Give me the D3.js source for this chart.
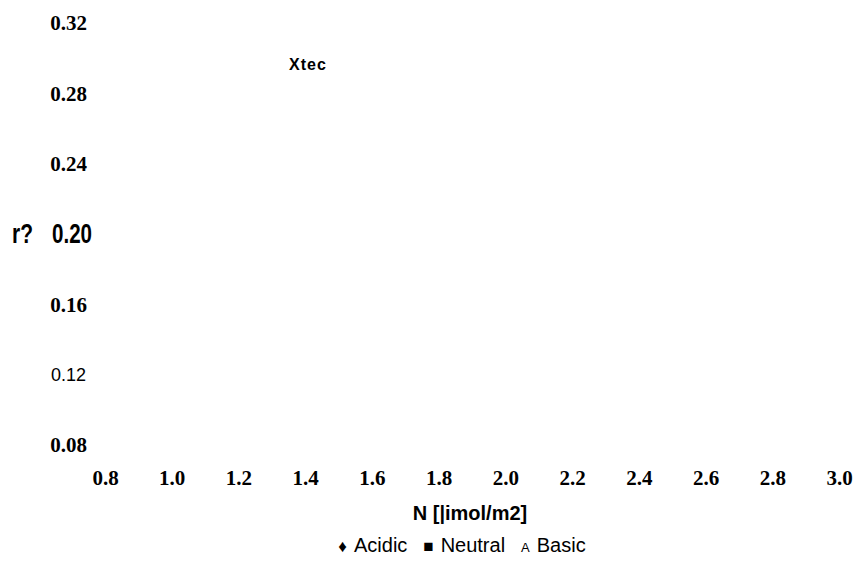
<!DOCTYPE html>
<html>
<head>
<meta charset="utf-8">
<script src="https://cdn.jsdelivr.net/npm/d3@7"></script>
<style>
  body { margin: 0; background: #fff; }
  svg { display: block; }
</style>
</head>
<body>
<div id="container"></div>
<script>
/* DATA */
const yTicks = [0.08, 0.12, 0.16, 0.20, 0.24, 0.28, 0.32];
const xTicks = [0.8, 1.0, 1.2, 1.4, 1.6, 1.8, 2.0, 2.2, 2.4, 2.6, 2.8, 3.0];
const seriesNames = ["Acidic", "Neutral", "Basic"];
const seriesSymbols = ["\u2666", "\u25A0", "A"];
// no markers are visible in the picture, so the series are empty
const acidic = [];
const neutral = [];
const basic = [];
const xTitle = "N [|imol/m2]";
const yTitle = "r?";
const chartLabel = "Xtec";

/* CONSTANTS */
const width = 853;
const height = 567;
const serif = "'Liberation Serif', 'Times New Roman', serif";
const sans = "'Liberation Sans', Arial, sans-serif";

const svg = d3.select("#container")
  .append("svg")
  .attr("width", width)
  .attr("height", height);

/* SCALES */
const xScale = d3.scaleLinear()
  .domain([0.8, 3.0])
  .range([105, 839]);

const yScale = d3.scaleLinear()
  .domain([0.08, 0.32])
  .range([445, 23]);

/* AXES */
const yAxis = svg.append("g")
  .attr("transform", "translate(87,0)")
  .call(d3.axisLeft(yScale).tickValues(yTicks).tickSize(0).tickPadding(0)
    .tickFormat(d3.format(".2f")));
yAxis.select(".domain").remove();
yAxis.selectAll("text")
  .attr("fill", "#000")
  .style("font-family", serif)
  .style("font-weight", "bold")
  .style("font-size", "21px");

// odd ticks from the source picture
yAxis.selectAll(".tick").filter(d => Math.abs(d - 0.12) < 1e-9).select("text")
  .attr("x", -1)
  .style("font-family", sans)
  .style("font-weight", "normal")
  .style("font-size", "18px");
yAxis.selectAll(".tick").filter(d => Math.abs(d - 0.20) < 1e-9).select("text")
  .attr("x", 5)
  .style("font-family", sans)
  .style("font-weight", "bold")
  .style("font-size", "28px")
  .attr("textLength", 40)
  .attr("lengthAdjust", "spacingAndGlyphs");

const xAxis = svg.append("g")
  .attr("transform", "translate(0,478)")
  .call(d3.axisBottom(xScale).tickValues(xTicks).tickSize(0).tickPadding(0)
    .tickFormat(d3.format(".1f")));
xAxis.select(".domain").remove();
xAxis.selectAll("text")
  .attr("y", 0)
  .attr("dy", "0.35em")
  .attr("fill", "#000")
  .style("font-family", serif)
  .style("font-weight", "bold")
  .style("font-size", "21px");

/* SERIES (empty) */
const symbol = d3.symbol().size(40);
[acidic, neutral, basic].forEach((pts, i) => {
  svg.append("g").selectAll("path")
    .data(pts)
    .join("path")
    .attr("transform", d => `translate(${xScale(d[0])},${yScale(d[1])})`)
    .attr("d", symbol.type([d3.symbolDiamond, d3.symbolSquare, d3.symbolTriangle][i]))
    .attr("fill", "#000");
});

/* TITLES */
svg.append("text")
  .attr("x", 12)
  .attr("y", yScale(0.20))
  .attr("dy", "0.32em")
  .style("font-family", sans)
  .style("font-weight", "bold")
  .style("font-size", "28px")
  .attr("textLength", 21)
  .attr("lengthAdjust", "spacingAndGlyphs")
  .text(yTitle);

svg.append("text")
  .attr("x", 308)
  .attr("y", 64)
  .attr("dy", "0.35em")
  .attr("text-anchor", "middle")
  .style("font-family", sans)
  .style("font-weight", "bold")
  .style("font-size", "16px")
  .style("letter-spacing", "1px")
  .text(chartLabel);

svg.append("text")
  .attr("x", 470)
  .attr("y", 513)
  .attr("dy", "0.35em")
  .attr("text-anchor", "middle")
  .style("font-family", sans)
  .style("font-weight", "bold")
  .style("font-size", "20px")
  .text(xTitle);

/* LEGEND */
const legend = svg.append("text")
  .attr("x", 462)
  .attr("y", 545)
  .attr("dy", "0.35em")
  .attr("text-anchor", "middle")
  .style("font-family", sans)
  .style("font-size", "20px");

seriesNames.forEach((name, i) => {
  legend.append("tspan")
    .style("font-size", i === 2 ? "13px" : "17px")
    .attr("dx", i === 0 ? 0 : 16)
    .text(seriesSymbols[i]);
  legend.append("tspan")
    .attr("dx", 7)
    .text(name);
});
</script>
</body>
</html>
